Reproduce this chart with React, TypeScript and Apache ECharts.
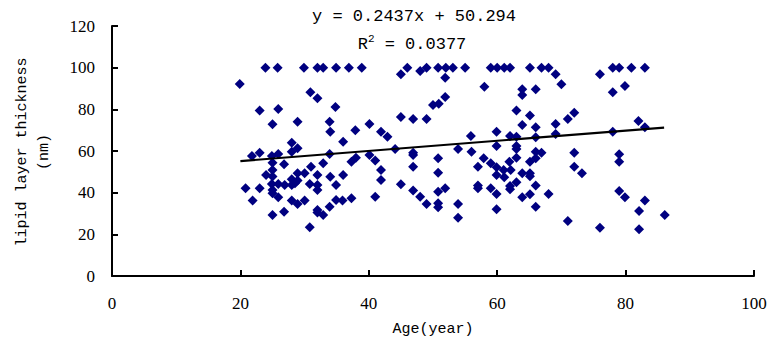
import React, { useEffect, useRef } from "react";
import * as echarts from "echarts";

const xTicks = [0, 20, 40, 60, 80, 100];
const yTicks = [0, 20, 40, 60, 80, 100, 120];

const points: [number, number][] = [
  [23.9, 100], [25.8, 100], [29.9, 100], [32.0, 100], [32.9, 100], [34.9, 100], [36.9, 100],
  [19.9, 92.2], [30.9, 88.2], [32.0, 85.3], [23.0, 79.4], [25.9, 80.2], [34.8, 81.1],
  [25.0, 72.8], [28.9, 74.1], [33.9, 74.1], [34.0, 69.3], [28.0, 64.0], [36.0, 64.5],
  [38.9, 100], [45.0, 96.8], [46.0, 100], [48.0, 98.4], [49.0, 100], [50.8, 100], [52.0, 100],
  [53.1, 100], [55.0, 100], [51.9, 95.2], [51.9, 85.9], [50.9, 82.7], [50.0, 82.1],
  [45.0, 76.3], [46.9, 75.4], [49.0, 75.4], [40.1, 73.0], [37.9, 70.0], [41.9, 69.3],
  [42.9, 66.9], [55.9, 67.2],
  [59.0, 100], [60.0, 100], [61.1, 100], [62.0, 100], [65.1, 100], [66.9, 100], [68.0, 100],
  [69.1, 96.8], [70.0, 92.0], [76.0, 96.8], [58.0, 90.9], [63.9, 89.6], [63.9, 86.9],
  [66.0, 89.6], [63.0, 79.4], [65.1, 77.0], [72.0, 78.4], [71.0, 75.4], [63.9, 72.5],
  [66.0, 71.4], [69.1, 73.0], [59.9, 69.3], [69.1, 68.2], [62.0, 67.2], [63.0, 66.9], [66.0, 66.6],
  [78.0, 100], [79.0, 100], [80.9, 100], [83.0, 100], [78.0, 88.2], [79.9, 91.2],
  [82.0, 74.4], [83.0, 71.4], [78.0, 69.3],
  [79.0, 58.4], [79.0, 54.9], [79.0, 40.8], [79.9, 37.8], [83.0, 36.2], [82.1, 31.2],
  [86.1, 29.3], [76.0, 23.2], [82.1, 22.4],
  [59.9, 62.4], [63.0, 62.4], [63.0, 61.0], [56.0, 59.7], [66.0, 59.7], [66.9, 59.2], [72.0, 59.2],
  [57.9, 56.5], [63.0, 56.8], [66.0, 56.5], [65.1, 54.9], [59.0, 54.1], [61.9, 54.9],
  [57.0, 52.5], [59.9, 52.2], [61.0, 50.9], [62.1, 50.9], [72.0, 52.5], [73.2, 49.3],
  [63.9, 49.3], [65.1, 49.3], [59.9, 48.5], [61.1, 47.4], [65.1, 47.9], [57.0, 43.4],
  [57.0, 42.1], [59.0, 42.1], [62.0, 43.2], [63.0, 45.0], [62.0, 41.6], [66.0, 43.4],
  [59.9, 39.4], [63.9, 37.8], [65.1, 39.2], [68.0, 39.4], [66.0, 33.3], [59.9, 32.0], [71.0, 26.4],
  [40.1, 58.1], [44.1, 61.0], [46.9, 59.2], [46.9, 58.1], [50.8, 56.5], [53.9, 61.0],
  [38.0, 56.8], [37.3, 54.9], [41.0, 55.4], [41.9, 50.9], [41.9, 46.1], [46.9, 52.5],
  [50.8, 49.6], [45.0, 44.0], [46.9, 41.0], [50.8, 40.5], [51.9, 42.1], [48.0, 38.1],
  [49.0, 34.6], [50.8, 34.9], [50.8, 33.0], [53.9, 34.6], [53.9, 28.0], [41.0, 38.1], [37.3, 37.3],
  [21.8, 57.6], [23.0, 59.2], [24.9, 57.6], [25.9, 58.6], [28.9, 61.3], [28.0, 59.7],
  [33.9, 58.6], [26.8, 53.6], [25.0, 54.4], [25.0, 50.9], [24.0, 48.5], [25.0, 47.8],
  [28.9, 49.3], [30.0, 49.3], [31.0, 52.5], [32.0, 48.5], [32.9, 54.1], [34.0, 47.7],
  [36.0, 48.5], [28.0, 46.4], [28.9, 45.8], [28.5, 44.5], [25.9, 44.2], [26.9, 43.7],
  [28.0, 43.7], [30.8, 44.2], [24.9, 44.2], [20.8, 42.1], [23.0, 42.1], [25.0, 41.3],
  [25.0, 39.7], [25.9, 37.8], [32.0, 43.7], [32.0, 41.3], [34.9, 43.7], [21.9, 36.2],
  [28.9, 34.6], [30.0, 36.2], [34.9, 36.5], [33.9, 33.3], [32.9, 29.3], [32.0, 31.7],
  [32.0, 30.5], [26.8, 30.9], [25.0, 29.3], [30.8, 23.4], [28.0, 36.2], [35.9, 36.2],
];

const slope = 0.2437;
const intercept = 50.294;
const trendRange = [20, 86];

const MONO = "Liberation Mono";
const SERIF = "Liberation Serif";

export default function App() {
  const ref = useRef<HTMLDivElement>(null);
  useEffect(() => {
    if (!ref.current) return;
    const chart = echarts.init(ref.current, undefined, { renderer: "svg" });
    const trend = trendRange.map((x) => [x, +(slope * x + intercept).toFixed(3)]);
    chart.setOption({
      animation: false,
      backgroundColor: "#fff",
      grid: { left: 112, right: 17, top: 26, bottom: 68 },
      xAxis: {
        type: "value",
        min: xTicks[0],
        max: xTicks[xTicks.length - 1],
        interval: 20,
        splitLine: { show: false },
        axisLine: { show: true, onZero: false, lineStyle: { color: "#000", width: 2 } },
        axisTick: { show: true, inside: true, length: 6, lineStyle: { color: "#000", width: 2 } },
        axisLabel: { color: "#000", fontFamily: SERIF, fontSize: 17, margin: 19 },
      },
      yAxis: {
        type: "value",
        min: yTicks[0],
        max: yTicks[yTicks.length - 1],
        interval: 20,
        splitLine: { show: false },
        axisLine: { show: true, lineStyle: { color: "#000", width: 2 } },
        axisTick: { show: true, inside: true, length: 6, lineStyle: { color: "#000", width: 2 } },
        axisLabel: { color: "#000", fontFamily: SERIF, fontSize: 17, margin: 17 },
      },
      series: [
        {
          type: "scatter",
          data: points,
          symbol: "diamond",
          symbolSize: 10,
          itemStyle: { color: "#000080", opacity: 1 },
          z: 2,
        },
        {
          type: "line",
          data: trend,
          showSymbol: false,
          symbol: "none",
          lineStyle: { color: "#000", width: 2.2 },
          z: 3,
        },
      ],
      graphic: [
        {
          type: "text",
          x: 414,
          y: 16,
          style: {
            text: "y = 0.2437x + 50.294",
            font: `17px "${MONO}"`,
            fill: "#000",
            align: "center",
            verticalAlign: "middle",
          },
        },
        {
          type: "text",
          x: 412,
          y: 43,
          style: {
            text: "{a|R}{s|2}{a| = 0.0377}",
            fill: "#000",
            align: "center",
            verticalAlign: "middle",
            rich: {
              a: { fontFamily: MONO, fontSize: 17, fill: "#000", verticalAlign: "bottom" },
              s: { fontFamily: MONO, fontSize: 11, fill: "#000", verticalAlign: "top", padding: [0, 0, 8, 0] },
            },
          },
        },
        {
          type: "text",
          x: 22,
          y: 152,
          rotation: Math.PI / 2,
          style: {
            text: "lipid layer thickness",
            font: `15px "${MONO}"`,
            fill: "#000",
            align: "center",
            verticalAlign: "middle",
          },
        },
        {
          type: "text",
          x: 44,
          y: 152,
          rotation: Math.PI / 2,
          style: {
            text: "(nm)",
            font: `15px "${MONO}"`,
            fill: "#000",
            align: "center",
            verticalAlign: "middle",
          },
        },
        {
          type: "text",
          x: 433,
          y: 329,
          style: {
            text: "Age(year)",
            font: `15px "${MONO}"`,
            fill: "#000",
            align: "center",
            verticalAlign: "middle",
          },
        },
      ],
    });
    return () => chart.dispose();
  }, []);
  return (
    <div style={{ position: "fixed", left: 0, top: 0, width: 771, height: 344, background: "#fff" }}>
      <div ref={ref} style={{ width: 771, height: 344 }} />
    </div>
  );
}
